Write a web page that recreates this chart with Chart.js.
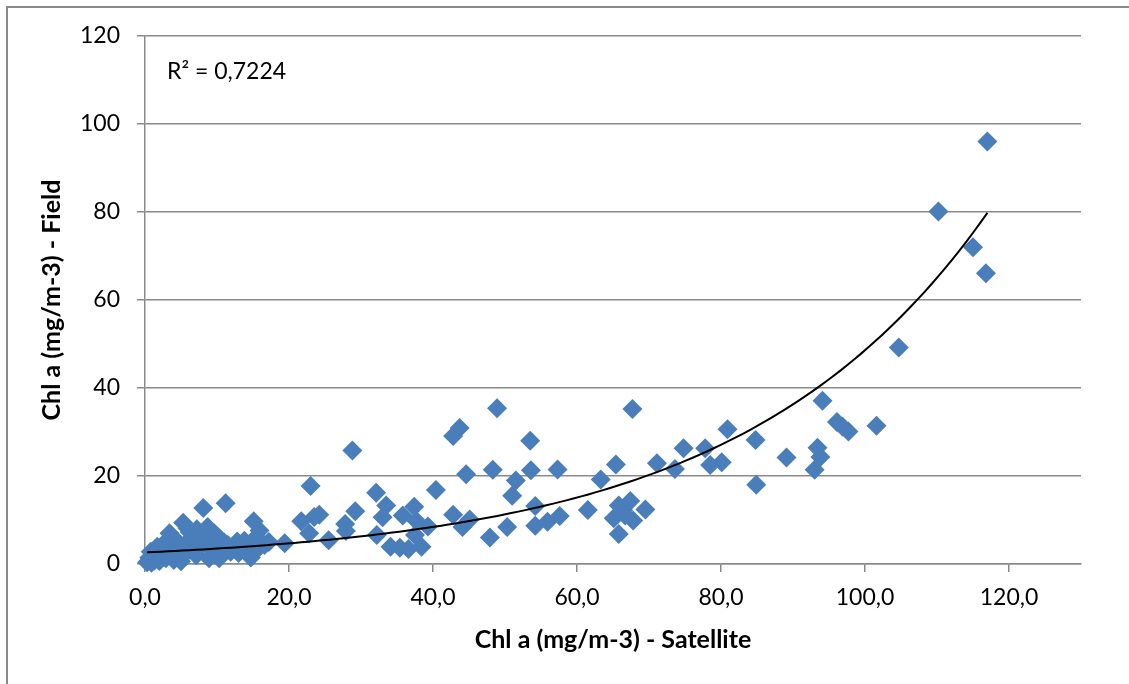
<!DOCTYPE html>
<html>
<head>
<meta charset="utf-8">
<script src="https://cdn.jsdelivr.net/npm/chart.js@4.4.1/dist/chart.umd.min.js"></script>
<style>
  html, body { margin: 0; padding: 0; background: #fff; overflow: hidden; }
  #wrap { position: relative; width: 1129px; height: 684px; overflow: hidden; }
  #frame { position: absolute; left: 6px; top: 6px; width: 1300px; height: 900px; border: 2px solid #8a8a8a; box-sizing: border-box; }
  canvas { position: absolute; left: 0; top: 0; }
</style>
</head>
<body>
<div id="wrap">
  <div id="frame"></div>
  <canvas id="c" width="1129" height="684"></canvas>
</div>
<script>
// Satellite Chl a (x) and Field Chl a (y)
const satellite = [
  0.3, 0.6, 0.8, 1.3, 1.7, 1.6, 2.2, 2.9, 3.1, 3.4, 3.8, 4.1, 4.5, 4.3, 5.0, 5.3, 5.9, 5.7, 6.1, 6.6,
  7.1, 7.8, 8.1, 8.7, 8.9, 9.1, 9.6, 10.1, 10.3, 10.5, 11.2, 11.9, 11.5, 12.8, 13.5, 14.5, 14.7, 15.1, 15.9, 15.4,
  16.6, 17.2, 19.4, 2.6, 4.0, 6.9, 7.4, 9.6, 11.0, 13.0, 13.8, 6.2, 7.2, 9.3, 12.2, 15.7, 0.9, 2.0,
  21.7, 23.0, 22.8, 23.5, 24.2, 25.5, 27.8, 27.9, 28.8, 29.2, 32.1, 32.2, 33.0, 33.5, 34.1, 35.4, 35.8, 36.6,
  37.4, 37.7, 37.5, 38.4, 39.3, 40.4, 42.8, 43.7, 44.6, 42.8, 44.1, 45.1, 47.9, 48.3, 48.9,
  50.3, 51.0, 51.5, 53.5, 53.6, 54.2, 54.2, 55.9, 57.3, 57.6, 61.5, 63.3, 65.4, 65.1, 65.8, 65.8, 66.4, 66.7,
  67.4, 67.8, 67.7, 69.5,
  71.1, 73.6, 74.8, 77.8, 78.5, 80.1, 80.9, 84.8, 84.9, 89.1, 93.0, 93.8, 93.4, 94.1, 96.1, 96.9, 97.7, 101.6,
  104.7, 110.2, 115.0, 116.8, 117.0
];
const field = [
  0.4, 1.4, 2.8, 0.8, 3.9, 1.9, 2.6, 1.3, 3.2, 7.0, 5.8, 2.4, 5.1, 3.9, 0.6, 9.4, 8.1, 4.5, 3.2, 6.2,
  2.0, 5.5, 12.7, 8.4, 1.3, 4.0, 7.0, 6.2, 1.3, 5.5, 13.8, 2.8, 4.3, 5.1, 3.5, 3.9, 1.5, 9.7, 7.6, 6.0,
  4.3, 5.0, 4.7, 4.6, 0.9, 4.8, 3.4, 2.9, 4.9, 2.5, 5.3, 7.3, 7.9, 5.1, 3.9, 3.5, 0.3, 0.7,
  9.7, 17.7, 7.0, 10.7, 11.2, 5.4, 9.1, 7.5, 25.8, 12.0, 16.2, 6.6, 10.6, 13.3, 3.9, 3.7, 11.0, 3.4,
  13.0, 9.8, 6.6, 3.9, 8.5, 16.8, 29.1, 30.9, 20.4, 11.2, 8.4, 10.1, 6.0, 21.4, 35.4,
  8.4, 15.5, 19.0, 28.0, 21.3, 13.2, 8.7, 9.6, 21.5, 10.9, 12.3, 19.2, 22.6, 10.4, 13.3, 6.8, 12.2, 11.0,
  14.3, 9.9, 35.2, 12.4,
  22.9, 21.6, 26.3, 26.3, 22.5, 23.1, 30.6, 28.2, 18.0, 24.2, 21.4, 24.3, 26.4, 37.1, 32.3, 31.2, 30.1, 31.4,
  49.2, 80.1, 72.0, 66.1, 96.0
];
// Exponential trendline: y = a * e^(b x)
const trendA = 2.62;
const trendB = 0.0292;
const rSquaredLabel = 'R² = 0,7224';
const xTitle = 'Chl a (mg/m-3) - Satellite';
const yTitle = 'Chl a (mg/m-3) - Field';

const points = satellite.map((x, i) => ({ x: x, y: field[i] }));
const xMin = Math.min(...satellite), xMax = Math.max(...satellite);
const trend = [];
for (let i = 0; i <= 120; i++) {
  const x = xMin + (xMax - xMin) * i / 120;
  trend.push({ x: x, y: trendA * Math.exp(trendB * x) });
}

const FONT = 'Lato, "Open Sans", sans-serif';
const GRID = '#8a8a8a';

const rPlugin = {
  id: 'rsq',
  afterDraw(chart) {
    const { ctx, chartArea } = chart;
    ctx.save();
    ctx.font = '23px ' + FONT;
    ctx.fillStyle = '#000';
    ctx.textBaseline = 'middle';
    ctx.textAlign = 'left';
    ctx.fillText(rSquaredLabel, chartArea.left + 22, chartArea.top + 36);
    ctx.restore();
  }
};

new Chart(document.getElementById('c'), {
  type: 'scatter',
  data: {
    datasets: [
      {
        type: 'line', data: trend, borderColor: '#000', borderWidth: 2, pointRadius: 0,
        fill: false, tension: 0, order: 0
      },
      {
        data: points, pointStyle: 'rectRot', pointRadius: 10, pointHoverRadius: 10,
        backgroundColor: '#4A7EBB', borderColor: '#4A7EBB', borderWidth: 0, clip: false, order: 1
      }
    ]
  },
  options: {
    responsive: false,
    animation: false,
    devicePixelRatio: 1,
    layout: { padding: { left: 0, top: 36, right: 48, bottom: 0 } },
    plugins: { legend: { display: false }, tooltip: { enabled: false } },
    scales: {
      x: {
        type: 'linear', position: 'bottom', min: 0, max: 130,
        ticks: {
          stepSize: 20, includeBounds: false, color: '#000', padding: 12,
          font: { family: FONT, size: 23 },
          callback: v => v.toFixed(1).replace('.', ',')
        },
        grid: { drawOnChartArea: false, drawTicks: true, tickLength: 8, color: GRID, lineWidth: 1.5 },
        border: { color: GRID, width: 1.5 },
        title: {
          display: true, text: xTitle, color: '#000',
          font: { family: FONT, size: 25, weight: 'bold' },
          padding: { top: 0, bottom: 29 }
        },
        afterFit: s => { s.height = 120; }
      },
      y: {
        type: 'linear', min: 0, max: 120,
        ticks: {
          stepSize: 20, color: '#000', padding: 17,
          font: { family: FONT, size: 23 }
        },
        grid: { color: GRID, lineWidth: 1.5, tickLength: 8 },
        border: { color: GRID, width: 1.5 },
        title: {
          display: true, text: yTitle, color: '#000',
          font: { family: FONT, size: 25, weight: 'bold' },
          padding: { top: 37, bottom: 0 }
        },
        afterFit: s => { s.width = 145; }
      }
    }
  },
  plugins: [rPlugin]
});
</script>
</body>
</html>
